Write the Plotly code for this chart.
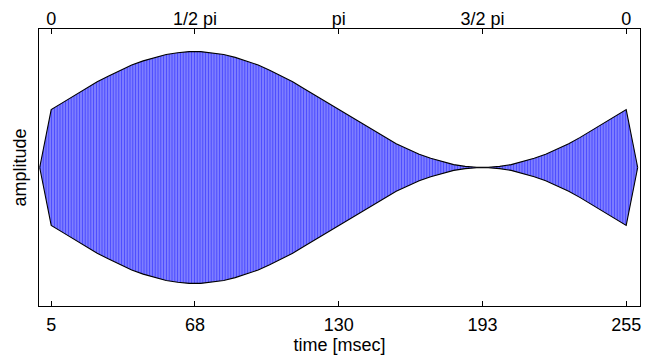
import plotly.graph_objects as go

# envelope samples (time in msec, amplitude)
t_ms = [0, 5, 10, 15, 20, 25, 30, 35, 40, 45, 50, 55, 60, 65, 70, 75, 80, 85, 90,
        95, 100, 105, 110, 115, 120, 125, 130, 135, 140, 145, 150, 155, 160, 165,
        170, 175, 180, 185, 190, 195, 200, 205, 210, 215, 220, 225, 230, 235, 240,
        245, 250, 255, 260]
env = [0.0, 0.50, 0.56, 0.62, 0.68, 0.74, 0.79, 0.84, 0.885, 0.92, 0.95, 0.975,
       0.99, 1.0, 1.0, 0.99, 0.975, 0.95, 0.92, 0.885, 0.84, 0.79, 0.74, 0.68,
       0.62, 0.56, 0.50, 0.44, 0.38, 0.32, 0.26, 0.205, 0.16, 0.115, 0.08, 0.05,
       0.025, 0.01, 0.002, 0.002, 0.01, 0.025, 0.05, 0.08, 0.115, 0.16, 0.205,
       0.26, 0.32, 0.38, 0.44, 0.50, 0.0]

bottom_ticks = [5, 67.5, 130, 192.5, 255]
bottom_labels = ["5", "68", "130", "193", "255"]
top_labels = ["0", "1/2 pi", "pi", "3/2 pi", "0"]

neg_env = [-v for v in env]

FONT = "Liberation Sans, Arial, Helvetica, sans-serif"
FS = 18

fig = go.Figure()
fig.add_trace(go.Scatter(x=t_ms, y=neg_env, mode="lines",
                         line=dict(color="black", width=1.1),
                         showlegend=False, hoverinfo="skip"))
fig.add_trace(go.Scatter(x=t_ms, y=env, mode="lines",
                         line=dict(color="black", width=1.1),
                         fill="tonexty",
                         fillpattern=dict(shape="|", fgcolor="#0000ff",
                                          bgcolor="#9090ff", size=2.8,
                                          solidity=0.5),
                         showlegend=False, hoverinfo="skip"))
# invisible trace for the top axis
fig.add_trace(go.Scatter(x=[t_ms[0], t_ms[-1]], y=[0, 0], xaxis="x2",
                         mode="markers", marker=dict(opacity=0),
                         showlegend=False, hoverinfo="skip"))

xr = [-0.3, 261]
fig.update_layout(
    width=653, height=358,
    margin=dict(l=39, r=13, t=29, b=52, autoexpand=False),
    paper_bgcolor="white", plot_bgcolor="white",
    font=dict(family=FONT, size=FS, color="black"),
    xaxis=dict(range=xr, tickvals=bottom_ticks, ticktext=bottom_labels,
               ticks="inside", ticklen=5, tickwidth=1, tickcolor="black",
               showline=True, linecolor="black", linewidth=1.3,
               showgrid=False, zeroline=False, automargin=False,
               ticklabelstandoff=2,
               title=dict(text="time [msec]", standoff=1,
                          font=dict(size=FS)),
               tickfont=dict(size=FS)),
    xaxis2=dict(range=xr, overlaying="x", side="top", anchor="y",
                tickvals=bottom_ticks, ticktext=top_labels,
                ticks="inside", ticklen=5, tickwidth=1, tickcolor="black",
                showline=True, linecolor="black", linewidth=1.3,
                showgrid=False, zeroline=False, automargin=False,
                ticklabelstandoff=-4,
                tickfont=dict(size=FS)),
    yaxis=dict(range=[-1.195, 1.195], showticklabels=False, ticks="",
               showline=True, linecolor="black", linewidth=1.3, mirror=True,
               showgrid=False, zeroline=False, automargin=False,
               title=dict(text="amplitude", standoff=6, font=dict(size=FS))),
)

fig.write_html("out.html",
               config={"displayModeBar": False},
               post_script="document.body.style.margin='0';"
                           "document.body.style.overflow='hidden';")
